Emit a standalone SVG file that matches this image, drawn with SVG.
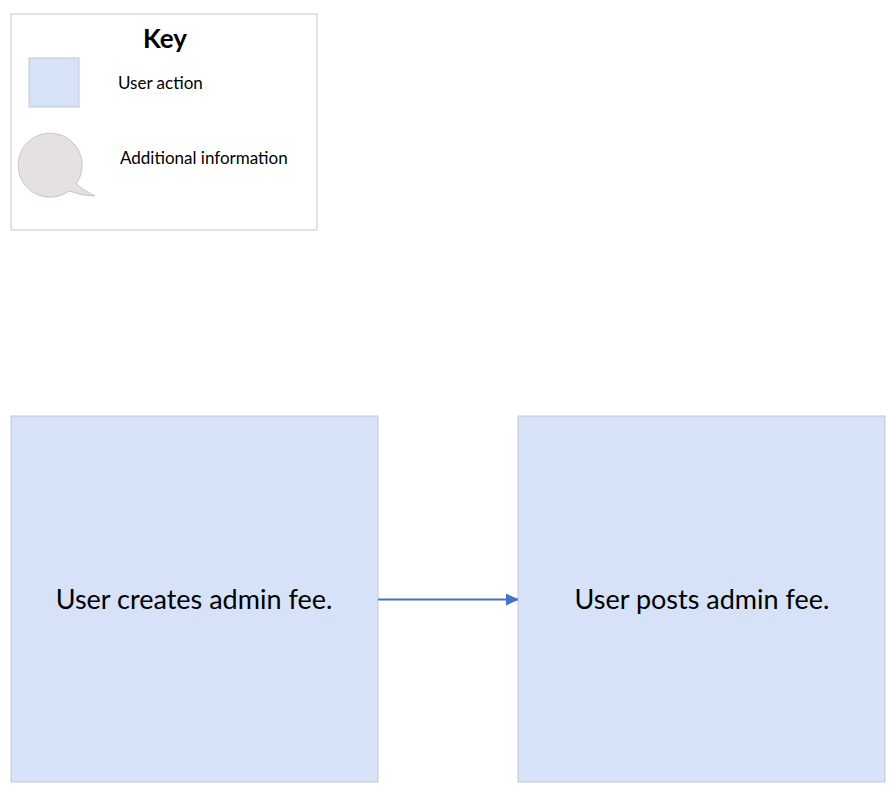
<svg xmlns="http://www.w3.org/2000/svg" width="896" height="794" viewBox="0 0 896 794">
<style>
.act{fill:#d6e2f8;stroke:#c3c8d0;stroke-width:1}
.t{font-family:Lato,"Open Sans",sans-serif;fill:#000}
</style>
<defs><marker id="ah" markerWidth="12" markerHeight="12" refX="12" refY="6" orient="auto" markerUnits="userSpaceOnUse"><path d="M0,0 L13,6 L0,12 z" fill="#4472c4"/></marker></defs>
<rect width="896" height="794" fill="#fff"/>
<g id="key">
<rect x="11" y="14" width="306" height="216" fill="#fff" stroke="#c8c8c8"/>
<text class="t" x="165" y="48" font-size="26" font-weight="bold" text-anchor="middle">Key</text>
<rect class="act" x="29" y="58" width="50" height="49"/>
<text class="t" x="118" y="89" font-size="17">User action</text>
<path d="M76,184 A32,32 0 1 0 69,191 Q82,196 95,196 Q82,189 76,184 z" fill="#e4e1e0" stroke="#c8c6c4"/>
<text class="t" x="120" y="164" font-size="17">Additional information</text>
</g>
<g id="n1"><rect class="act" x="11" y="416" width="367" height="366"/>
<text class="t" x="194" y="609" font-size="27" text-anchor="middle">User creates admin fee.</text></g>
<g id="n2"><rect class="act" x="518" y="416" width="367" height="366"/>
<text class="t" x="702" y="609" font-size="27" text-anchor="middle">User posts admin fee.</text></g>
<g id="connectors"><line x1="378" y1="599.5" x2="518" y2="599.5" stroke="#4472c4" stroke-width="2" marker-end="url(#ah)"/></g>
</svg>
